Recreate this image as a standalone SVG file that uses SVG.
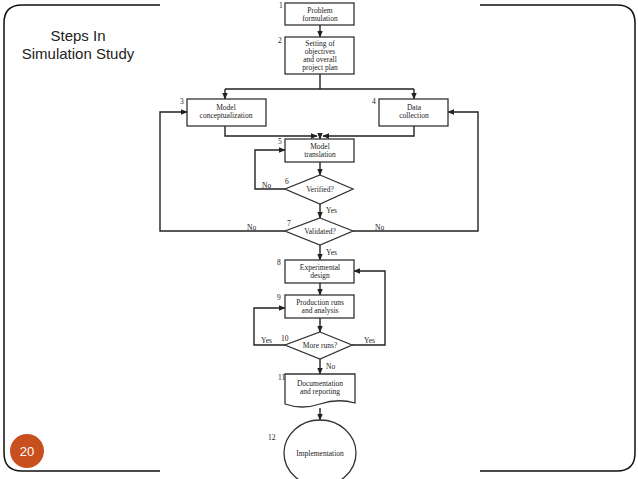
<svg xmlns="http://www.w3.org/2000/svg" width="638" height="479" viewBox="0 0 638 479">
<style>
.b{fill:#fff;stroke:#333;stroke-width:1.3}
.c{fill:none;stroke:#222;stroke-width:1.4}
.t{font-family:"Liberation Serif",serif;font-size:7.5px;fill:#222;text-anchor:middle}
.n{font-family:"Liberation Serif",serif;font-size:7.5px;fill:#222}
.f{fill:none;stroke:#111;stroke-width:1.5}
</style>
<defs><marker id="a" viewBox="0 0 10 10" refX="9" refY="5" markerWidth="5" markerHeight="5" orient="auto"><path d="M0,1L10,5L0,9z" fill="#222"/></marker></defs>
<rect width="638" height="479" fill="#fff"/>
<g id="frame">
<path class="f" d="M160,5H22Q4,5 4,23V453Q4,471 22,471H160"/>
<path class="f" d="M480,5H617Q635,5 635,23V453Q635,471 617,471H480"/>
</g>
<g id="title"><text x="78" y="41" font-family="Liberation Sans,Arial,sans-serif" font-size="15" text-anchor="middle" fill="#222">Steps In</text>
<text x="78" y="59" font-family="Liberation Sans,Arial,sans-serif" font-size="15" text-anchor="middle" fill="#222">Simulation Study</text></g>
<g id="badge"><circle cx="27" cy="451" r="17" fill="#c8501e"/><text x="27" y="456" font-family="Liberation Sans,Arial,sans-serif" font-size="13" text-anchor="middle" fill="#fff">20</text></g>
<g id="connectors">
<path class="c" d="M320,25V37" marker-end="url(#a)"/>
<path class="c" d="M320,74V89M225,89H414"/>
<path class="c" d="M225,89V99" marker-end="url(#a)"/>
<path class="c" d="M414,89V99" marker-end="url(#a)"/>
<path class="c" d="M225,126V136H317" marker-end="url(#a)"/>
<path class="c" d="M414,126V136H323" marker-end="url(#a)"/>
<path class="c" d="M320,136V139" marker-end="url(#a)"/>
<path class="c" d="M320,162V175" marker-end="url(#a)"/>
<path class="c" d="M285,189H255V150H285" marker-end="url(#a)"/>
<path class="c" d="M320,204V218" marker-end="url(#a)"/>
<path class="c" d="M285,231H160V112H187" marker-end="url(#a)"/>
<path class="c" d="M353,231H478V112H448" marker-end="url(#a)"/>
<path class="c" d="M320,245V260" marker-end="url(#a)"/>
<path class="c" d="M320,283V295" marker-end="url(#a)"/>
<path class="c" d="M320,318V332" marker-end="url(#a)"/>
<path class="c" d="M285,345H254V308H285" marker-end="url(#a)"/>
<path class="c" d="M352,345H385V271H354" marker-end="url(#a)"/>
<path class="c" d="M320,359V374" marker-end="url(#a)"/>
<path class="c" d="M320,408V420" marker-end="url(#a)"/>
<text class="n" x="262" y="188">No</text>
<text class="n" x="326" y="213">Yes</text>
<text class="n" x="247" y="230">No</text>
<text class="n" x="375" y="230">No</text>
<text class="n" x="326" y="255">Yes</text>
<text class="n" x="261" y="343">Yes</text>
<text class="n" x="364" y="343">Yes</text>
<text class="n" x="326" y="369">No</text>
</g>
<g id="n1"><rect class="b" x="285" y="3" width="69" height="22"/><text class="n" x="279" y="8">1</text><text class="t" x="320" y="13">Problem</text><text class="t" x="320" y="21">formulation</text></g>
<g id="n2"><rect class="b" x="285" y="37" width="69" height="37"/><text class="n" x="278" y="43">2</text><text class="t" x="320" y="46">Setting of</text><text class="t" x="320" y="54">objectives</text><text class="t" x="320" y="62">and overall</text><text class="t" x="320" y="70">project plan</text></g>
<g id="n3"><rect class="b" x="187" y="99" width="79" height="27"/><text class="n" x="180" y="104">3</text><text class="t" x="226" y="110">Model</text><text class="t" x="226" y="118">conceptualization</text></g>
<g id="n4"><rect class="b" x="379" y="99" width="69" height="27"/><text class="n" x="372" y="104">4</text><text class="t" x="414" y="110">Data</text><text class="t" x="414" y="118">collection</text></g>
<g id="n5"><rect class="b" x="285" y="139" width="69" height="23"/><text class="n" x="278" y="144">5</text><text class="t" x="320" y="149">Model</text><text class="t" x="320" y="157">translation</text></g>
<g id="n6"><path class="b" d="M320,175L353,189L320,204L285,189Z"/><text class="n" x="285" y="184">6</text><text class="t" x="320" y="192">Verified?</text></g>
<g id="n7"><path class="b" d="M320,218L353,231L320,245L285,231Z"/><text class="n" x="287" y="226">7</text><text class="t" x="320" y="234">Validated?</text></g>
<g id="n8"><rect class="b" x="285" y="260" width="69" height="23"/><text class="n" x="277" y="265">8</text><text class="t" x="320" y="270">Experimental</text><text class="t" x="320" y="278">design</text></g>
<g id="n9"><rect class="b" x="285" y="295" width="69" height="23"/><text class="n" x="277" y="300">9</text><text class="t" x="320" y="305">Production runs</text><text class="t" x="320" y="313">and analysis</text></g>
<g id="n10"><path class="b" d="M320,332L352,345L320,359L285,345Z"/><text class="n" x="281" y="341">10</text><text class="t" x="320" y="348">More runs?</text></g>
<g id="n11"><path class="b" d="M285,374H355V403Q338,398 320,404T285,404Z"/><text class="n" x="278" y="380">11</text><text class="t" x="320" y="386">Documentation</text><text class="t" x="320" y="394">and reporting</text></g>
<g id="n12"><ellipse class="b" cx="320" cy="453" rx="36" ry="33"/><text class="n" x="268" y="440">12</text><text class="t" x="320" y="456">Implementation</text></g>
</svg>
